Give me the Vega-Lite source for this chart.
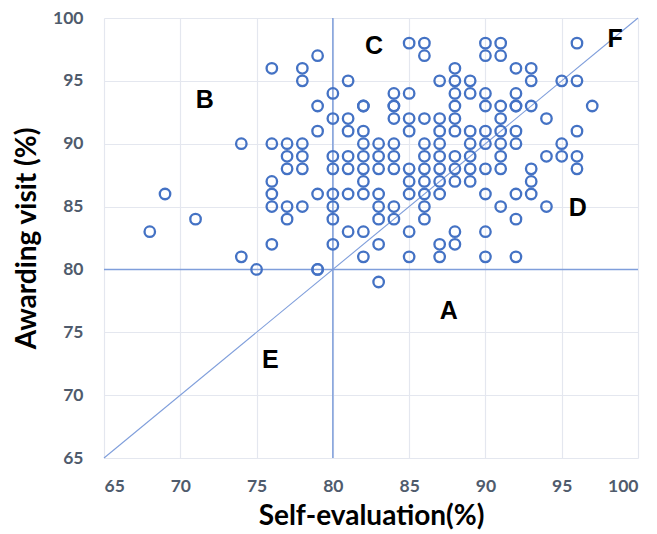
{
  "$schema": "https://vega.github.io/schema/vega-lite/v6.json",
  "width": 534,
  "height": 440,
  "autosize": "none",
  "padding": {"left": 104, "top": 18, "right": 19, "bottom": 76},
  "background": "white",
  "config": {
    "view": {"stroke": null},
    "axis": {
      "grid": true,
      "gridColor": "#e4e7ef",
      "gridWidth": 1.2,
      "domain": false,
      "ticks": false,
      "labelFont": "Lato",
      "labelFontSize": 17.5,
      "labelFontWeight": "bold",
      "labelColor": "#4f5b6c",
      "titleFont": "Lato",
      "titleFontSize": 28,
      "titleFontWeight": "bold",
      "titleColor": "#000000"
    }
  },
  "datasets": {
    "pts": [
      {"self": 68, "visit": 83},
      {"self": 69, "visit": 86},
      {"self": 71, "visit": 84},
      {"self": 74, "visit": 90}, {"self": 74, "visit": 81},
      {"self": 75, "visit": 80},
      {"self": 76, "visit": 96}, {"self": 76, "visit": 90}, {"self": 76, "visit": 87}, {"self": 76, "visit": 86}, {"self": 76, "visit": 85}, {"self": 76, "visit": 82},
      {"self": 77, "visit": 90}, {"self": 77, "visit": 89}, {"self": 77, "visit": 88}, {"self": 77, "visit": 85}, {"self": 77, "visit": 84},
      {"self": 78, "visit": 96}, {"self": 78, "visit": 95}, {"self": 78, "visit": 90}, {"self": 78, "visit": 89}, {"self": 78, "visit": 88}, {"self": 78, "visit": 85},
      {"self": 79, "visit": 97}, {"self": 79, "visit": 93}, {"self": 79, "visit": 91}, {"self": 79, "visit": 86}, {"self": 79, "visit": 80}, {"self": 79, "visit": 80},
      {"self": 80, "visit": 94}, {"self": 80, "visit": 92}, {"self": 80, "visit": 89}, {"self": 80, "visit": 88}, {"self": 80, "visit": 86}, {"self": 80, "visit": 85}, {"self": 80, "visit": 84}, {"self": 80, "visit": 82},
      {"self": 81, "visit": 95}, {"self": 81, "visit": 92}, {"self": 81, "visit": 91}, {"self": 81, "visit": 89}, {"self": 81, "visit": 88}, {"self": 81, "visit": 86}, {"self": 81, "visit": 83},
      {"self": 82, "visit": 93}, {"self": 82, "visit": 93}, {"self": 82, "visit": 91}, {"self": 82, "visit": 90}, {"self": 82, "visit": 89}, {"self": 82, "visit": 88}, {"self": 82, "visit": 87}, {"self": 82, "visit": 86}, {"self": 82, "visit": 83}, {"self": 82, "visit": 81},
      {"self": 83, "visit": 90}, {"self": 83, "visit": 89}, {"self": 83, "visit": 88}, {"self": 83, "visit": 86}, {"self": 83, "visit": 85}, {"self": 83, "visit": 84}, {"self": 83, "visit": 82}, {"self": 83, "visit": 79},
      {"self": 84, "visit": 94}, {"self": 84, "visit": 93}, {"self": 84, "visit": 93}, {"self": 84, "visit": 92}, {"self": 84, "visit": 90}, {"self": 84, "visit": 89}, {"self": 84, "visit": 88}, {"self": 84, "visit": 85}, {"self": 84, "visit": 84},
      {"self": 85, "visit": 98}, {"self": 85, "visit": 94}, {"self": 85, "visit": 92}, {"self": 85, "visit": 91}, {"self": 85, "visit": 88}, {"self": 85, "visit": 87}, {"self": 85, "visit": 86}, {"self": 85, "visit": 83}, {"self": 85, "visit": 81},
      {"self": 86, "visit": 98}, {"self": 86, "visit": 97}, {"self": 86, "visit": 92}, {"self": 86, "visit": 90}, {"self": 86, "visit": 89}, {"self": 86, "visit": 88}, {"self": 86, "visit": 87}, {"self": 86, "visit": 86}, {"self": 86, "visit": 85}, {"self": 86, "visit": 84},
      {"self": 87, "visit": 95}, {"self": 87, "visit": 92}, {"self": 87, "visit": 91}, {"self": 87, "visit": 90}, {"self": 87, "visit": 89}, {"self": 87, "visit": 88}, {"self": 87, "visit": 87}, {"self": 87, "visit": 86}, {"self": 87, "visit": 82}, {"self": 87, "visit": 81},
      {"self": 88, "visit": 96}, {"self": 88, "visit": 95}, {"self": 88, "visit": 94}, {"self": 88, "visit": 93}, {"self": 88, "visit": 92}, {"self": 88, "visit": 91}, {"self": 88, "visit": 89}, {"self": 88, "visit": 88}, {"self": 88, "visit": 87}, {"self": 88, "visit": 83}, {"self": 88, "visit": 82},
      {"self": 89, "visit": 95}, {"self": 89, "visit": 94}, {"self": 89, "visit": 91}, {"self": 89, "visit": 90}, {"self": 89, "visit": 89}, {"self": 89, "visit": 88}, {"self": 89, "visit": 87},
      {"self": 90, "visit": 98}, {"self": 90, "visit": 97}, {"self": 90, "visit": 94}, {"self": 90, "visit": 93}, {"self": 90, "visit": 91}, {"self": 90, "visit": 90}, {"self": 90, "visit": 88}, {"self": 90, "visit": 86}, {"self": 90, "visit": 83}, {"self": 90, "visit": 81},
      {"self": 91, "visit": 98}, {"self": 91, "visit": 97}, {"self": 91, "visit": 93}, {"self": 91, "visit": 92}, {"self": 91, "visit": 91}, {"self": 91, "visit": 90}, {"self": 91, "visit": 89}, {"self": 91, "visit": 88}, {"self": 91, "visit": 85},
      {"self": 92, "visit": 96}, {"self": 92, "visit": 94}, {"self": 92, "visit": 93}, {"self": 92, "visit": 93}, {"self": 92, "visit": 91}, {"self": 92, "visit": 90}, {"self": 92, "visit": 86}, {"self": 92, "visit": 84}, {"self": 92, "visit": 81},
      {"self": 93, "visit": 96}, {"self": 93, "visit": 95}, {"self": 93, "visit": 93}, {"self": 93, "visit": 88}, {"self": 93, "visit": 87}, {"self": 93, "visit": 86},
      {"self": 94, "visit": 92}, {"self": 94, "visit": 89}, {"self": 94, "visit": 85},
      {"self": 95, "visit": 95}, {"self": 95, "visit": 90}, {"self": 95, "visit": 89},
      {"self": 96, "visit": 98}, {"self": 96, "visit": 95}, {"self": 96, "visit": 91}, {"self": 96, "visit": 89}, {"self": 96, "visit": 88},
      {"self": 97, "visit": 93}
    ],
    "cross": [
      {"x1": 65, "y1": 80, "x2": 100, "y2": 80},
      {"x1": 80, "y1": 65, "x2": 80, "y2": 100}
    ],
    "diag": [
      {"x1": 65, "y1": 65, "x2": 100, "y2": 100}
    ],
    "labels": [
      {"lx": 87.6, "ly": 76.7, "t": "A"},
      {"lx": 71.6, "ly": 93.5, "t": "B"},
      {"lx": 82.7, "ly": 97.8, "t": "C"},
      {"lx": 96.05, "ly": 84.9, "t": "D"},
      {"lx": 75.9, "ly": 72.8, "t": "E"},
      {"lx": 98.5, "ly": 98.3, "t": "F"}
    ]
  },
  "layer": [
    {
      "data": {"name": "cross"},
      "mark": {"type": "rule", "color": "#7f9edb", "strokeWidth": 1.5},
      "encoding": {
        "x": {"field": "x1", "type": "quantitative", "scale": {"domain": [65, 100], "nice": false, "zero": false},
              "axis": {"values": [65, 70, 75, 80, 85, 90, 95, 100], "title": "Self-evaluation(%)", "labelPadding": 19, "titlePadding": 8}},
        "x2": {"field": "x2"},
        "y": {"field": "y1", "type": "quantitative", "scale": {"domain": [65, 100], "nice": false, "zero": false},
              "axis": {"values": [65, 70, 75, 80, 85, 90, 95, 100], "title": "Awarding visit (%)", "labelPadding": 21, "titlePadding": 11}},
        "y2": {"field": "y2"}
      }
    },
    {
      "data": {"name": "diag"},
      "mark": {"type": "rule", "color": "#7f9edb", "strokeWidth": 1.1},
      "encoding": {
        "x": {"field": "x1", "type": "quantitative"},
        "x2": {"field": "x2"},
        "y": {"field": "y1", "type": "quantitative"},
        "y2": {"field": "y2"}
      }
    },
    {
      "data": {"name": "pts"},
      "mark": {"type": "point", "shape": "circle", "filled": false, "color": "#4472c4", "strokeWidth": 2.3, "size": 110, "opacity": 1},
      "encoding": {
        "x": {"field": "self", "type": "quantitative"},
        "y": {"field": "visit", "type": "quantitative"}
      }
    },
    {
      "data": {"name": "labels"},
      "mark": {"type": "text", "font": "Liberation Sans", "fontSize": 25, "fontWeight": "bold", "color": "#000000", "align": "center", "baseline": "middle"},
      "encoding": {
        "x": {"field": "lx", "type": "quantitative"},
        "y": {"field": "ly", "type": "quantitative"},
        "text": {"field": "t"}
      }
    }
  ]
}
